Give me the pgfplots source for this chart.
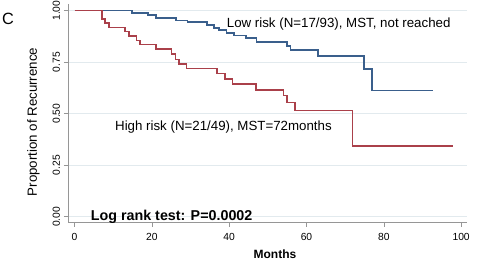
\documentclass[border=0pt]{standalone}
\usepackage{fontspec}
\setmainfont{Liberation Sans}
\usepackage{pgfplots}
\pgfplotsset{compat=1.18}
\definecolor{kmblue}{RGB}{58,95,140}
\definecolor{kmred}{RGB}{170,64,74}
\definecolor{gridc}{RGB}{226,234,238}
\definecolor{spinec}{RGB}{150,150,150}
\begin{document}
\begin{tikzpicture}
\path[use as bounding box] (0,0) rectangle (500pt,275pt);
\begin{axis}[
 at={(68pt,52.3pt)}, anchor=south west,
 scale only axis, width=399.3pt, height=218.2pt,
 xmin=-1.7, xmax=101.6, ymin=-0.029, ymax=1.03,
 axis x line=bottom, axis y line=left,
 axis line style={-, spinec, line width=0.8pt},
 xtick={0,20,40,60,80,100}, ytick={0,0.25,0.5,0.75,1},
 yticklabels={0.00,0.25,0.50,0.75,1.00},
 tick align=outside, major tick length=4pt,
 tick style={spinec, line width=0.6pt},
 ymajorgrids, grid style={gridc, line width=0.8pt},
 tick label style={font=\fontsize{10.3}{12}\selectfont},
 xticklabel style={yshift=-3.5pt},
 yticklabel style={rotate=90, anchor=south, yshift=0.5pt},
 clip=false,
 /pgf/number format/assume math mode=true,
]
\addplot[const plot mark left, kmblue, line width=1.6pt] coordinates {
(0,1.0) (14.9,0.989) (19.0,0.979) (21.0,0.965) (26.2,0.953) (29.2,0.944)
(34.2,0.930) (36.0,0.917) (37.4,0.906) (39.3,0.892) (41.3,0.880) (44.3,0.866)
(47.1,0.848) (55.0,0.829) (55.9,0.810) (63.0,0.779) (74.8,0.716) (77.0,0.613)
(92.8,0.613)};
\addplot[const plot mark left, kmred, line width=1.6pt] coordinates {
(0,1.0) (7.06,0.960) (7.9,0.939) (8.96,0.919) (13.0,0.898) (14.05,0.877)
(16.0,0.856) (16.9,0.835) (21.0,0.813) (25.1,0.790) (26.1,0.764) (27.0,0.741)
(29.0,0.720) (36.9,0.696) (38.9,0.668) (40.9,0.643) (46.9,0.614) (54.0,0.588)
(55.0,0.554) (57.0,0.515) (71.9,0.343) (98.0,0.343)};
\node[anchor=base west, inner sep=0pt, font=\fontsize{13.3}{15}\selectfont] at (axis cs:39.35,0.9194) {Low risk (N=17/93), MST, not reached};
\node[anchor=base west, inner sep=0pt, font=\fontsize{13.3}{15}\selectfont] at (axis cs:10.45,0.4175) {High risk (N=21/49), MST=72months};
\node[anchor=base west, inner sep=0pt, font=\fontsize{14.3}{16}\selectfont\bfseries] at (axis cs:4.17,-0.016) {Log rank test: P=0.0002};
\node[anchor=base, inner sep=0pt, font=\fontsize{12}{14}\selectfont\bfseries] at (axis cs:51.85,-0.2019) {Months};
\node[anchor=base west, inner sep=0pt, font=\fontsize{16.3}{18}\selectfont] at (axis cs:-18.78,0.9306) {C};
\node[rotate=90, anchor=center, inner sep=0pt, font=\fontsize{13.3}{15}\selectfont] at (axis cs:-10.63,0.4597) {Proportion of Recurrence};
\end{axis}
\end{tikzpicture}
\end{document}
